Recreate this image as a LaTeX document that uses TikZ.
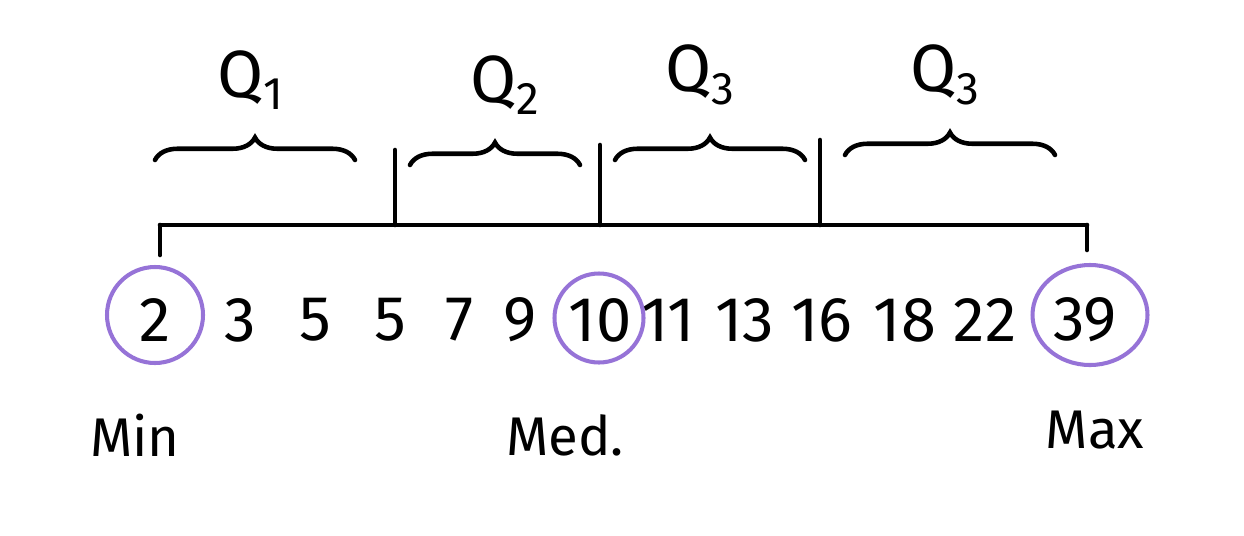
\documentclass[tikz,border=0pt]{standalone}
\usepackage{fontspec}
\setmainfont{Fira Sans}
\usetikzlibrary{decorations.pathreplacing,shapes.geometric}
\definecolor{ringPurple}{RGB}{150,115,215}
\newcommand{\Qlab}[1]{Q\raisebox{-0.35ex}{\fontsize{26}{28}\selectfont #1}}

\begin{document}
\begin{tikzpicture}[line width=2.6pt, line cap=round,
  num/.style={inner sep=0pt,font=\fontsize{36}{38}\selectfont},
  word/.style={inner sep=0pt,font=\fontsize{31}{33}\selectfont},
  ring/.style={draw=ringPurple,line width=2.3pt,circle},
  qlab/.style={font=\fontsize{38}{40}\selectfont},
  wavy/.style={decorate,decoration={brace,amplitude=0.45cm}}]
\useasboundingbox (0,0) rectangle (24.88,-10.7);
% the bar with its end and quartile ticks
\coordinate (left) at (3.2,-4.5);
\coordinate (right) at (21.74,-4.5);
\coordinate (qa) at (7.9,-4.5);
\coordinate (qb) at (12.0,-4.5);
\coordinate (qc) at (16.4,-4.5);
\draw (left) -- (right);
\draw (left) -- ++(0,-0.6);
\draw (right) -- ++(0,-0.5);
\draw (qa) -- ++(0,1.5);
\draw (qb) -- ++(0,1.6);
\draw (qc) -- ++(0,1.7);
% braces over each quarter
\draw[wavy] (3.1,-3.2) -- (7.1,-3.2);
\draw[wavy] (8.2,-3.3) -- (11.6,-3.3);
\draw[wavy] (12.3,-3.2) -- (16.1,-3.2);
\draw[wavy] (16.9,-3.1) -- (21.1,-3.1);
\node[qlab] (q1) at (5.0,-1.6) {\Qlab{1}};
\node[qlab] (q2) at (10.1,-1.7) {\Qlab{2}};
\node[qlab] (q3) at (14.0,-1.5) {\Qlab{3}};
\node[qlab] (q4) at (18.9,-1.5) {\Qlab{3}};
% the data values
\foreach \x/\v [count=\i] in {3.1/2,4.8/3,6.3/5,7.8/5,9.2/7,10.4/9,12.0/10,13.36/11,14.9/13,16.44/16,18.1/18,19.7/22,21.7/39}
  \node[num] (n\i) at (\x,-6.4) {\v};
\node[ring,minimum size=1.92cm] (c1) at (3.1,-6.3) {};
\node[ring,minimum size=1.78cm] (c7) at (11.98,-6.36) {};
\node[ring,ellipse,minimum width=2.3cm,minimum height=2.0cm] (c13) at (21.8,-6.3) {};
\node[word] (min) at (2.7,-8.7) {Min};
\node[word] (med) at (11.3,-8.7) {Med.};
\node[word] (max) at (21.9,-8.6) {Max};
\end{tikzpicture}
\end{document}
